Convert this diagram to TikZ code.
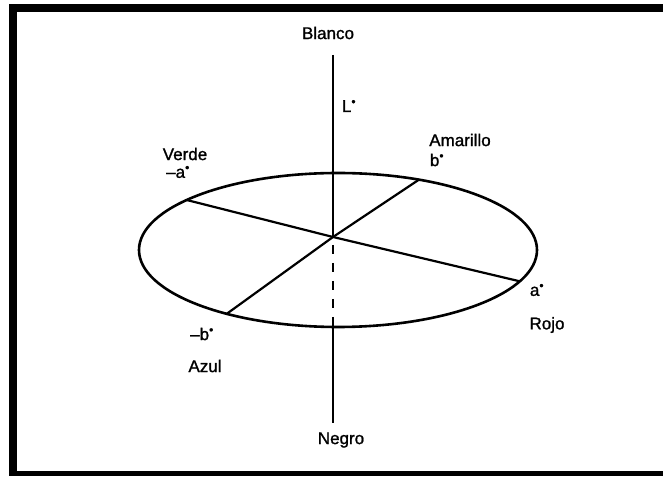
\documentclass[tikz,border=0pt]{standalone}
\usepackage{fontspec}
\setmainfont{Liberation Sans}
\usetikzlibrary{calc}
\begin{document}
\begin{tikzpicture}[x=1pt,y=1pt,
  lbl/.style={inner sep=0pt, font=\fontsize{17}{19}\selectfont\addfontfeature{FakeBold=1.2}},
  axis/.style={line width=2.2pt},
  rim/.style={line width=2.6pt}]
\useasboundingbox (0,0) rectangle (663,476);
% frame
\fill[black] (9,464) rectangle (663,472);
\fill[black] (9,0) rectangle (17,472);
\fill[black] (9,0) rectangle (663,5);
% ellipse
\coordinate (E) at (338,226);
\draw[rim] (E) ellipse [x radius=199, y radius=77];
\coordinate (O) at (333,239);
\coordinate (V) at ($(E)+(139.5:199 and 77)$);
\coordinate (Am) at ($(E)+(66:199 and 77)$);
\coordinate (R) at ($(E)+(-24:199 and 77)$);
\coordinate (Az) at ($(E)+(-124:199 and 77)$);
\coordinate (Bot) at (333,149);
\coordinate (Top) at (333,421);
\coordinate (Low) at (333,53);
\draw[axis] (V) -- (O) -- (R);
\draw[axis] (Am) -- (O) -- (Az);
\draw[axis] (Top) -- (O);
\draw[axis, dash pattern=on 9pt off 9pt] ([yshift=-8pt]O) -- (Bot);
\draw[axis] (Bot) -- (Low);
% labels
\node[lbl] (blanco) at (328,443) {Blanco};
\node[lbl] (L) at (349,370) {L\textsuperscript{•}};
\node[lbl] (verde) at (185,322) {Verde};
\node[lbl] (ma) at (178,304) {–a\textsuperscript{•}};
\node[lbl] (amarillo) at (460,336) {Amarillo};
\node[lbl] (b) at (437,316) {b\textsuperscript{•}};
\node[lbl] (a) at (537,186) {a\textsuperscript{•}};
\node[lbl] (rojo) at (547,151) {Rojo};
\node[lbl] (mb) at (202,142) {–b\textsuperscript{•}};
\node[lbl] (azul) at (205,110) {Azul};
\node[lbl] (negro) at (341,36) {Negro};
\end{tikzpicture}
\end{document}
